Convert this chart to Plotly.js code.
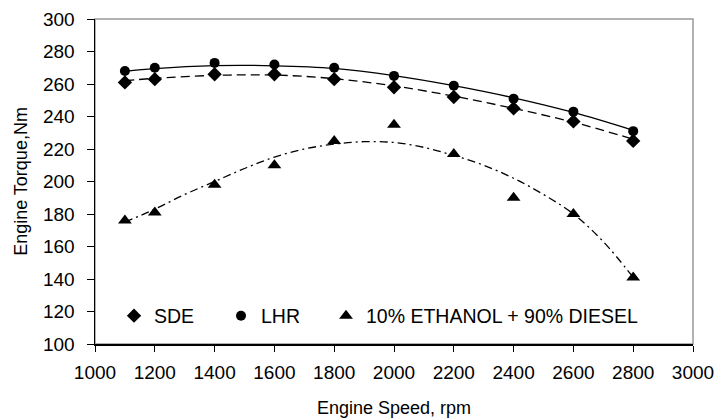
<!DOCTYPE html>
<html><head><meta charset="utf-8">
<script src="https://cdn.plot.ly/plotly-3.0.1.min.js"></script>
<style>html,body{margin:0;padding:0;background:#fff}#c{width:716px;height:418px}</style>
</head><body><div id="c"></div>
<script>
const speed = [1100,1200,1400,1600,1800,2000,2200,2400,2600,2800];
const sde = [261,263,266,266,263,258,252,245,237,225];
const lhr = [268,270,273,272,270,265,259,251,243,231];
const ethanol = [176,181,198,210,225,235,217,190,180,141];

const trendSpeed = [1100,1200,1400,1600,1800,2000,2200,2400,2600,2800];
const sdeTrend = [262,263.5,265.3,265.5,263.3,258.8,252.5,245,236.5,226];
const lhrTrend = [267.8,269.5,271.3,271.2,269.6,265.2,259,251.5,242.5,231.5];
const ethTrendSpeed = [1100,1200,1300,1400,1500,1600,1700,1800,1900,2000,2100,2200,2300,2400,2500,2600,2700,2800];
const ethTrend = [175,183,192,200,208,215,220,223,224.5,224,221,216,210,202,192,180,163,141];

const xTicks = [1000,1200,1400,1600,1800,2000,2200,2400,2600,2800,3000];
const yTicks = [100,120,140,160,180,200,220,240,260,280,300];

const lineStyle = {color:'#000', width:1.3};
const traces = [
  {x:trendSpeed, y:lhrTrend, mode:'lines', line:Object.assign({dash:'solid', shape:'spline'}, lineStyle), showlegend:false, hoverinfo:'skip'},
  {x:trendSpeed, y:sdeTrend, mode:'lines', line:Object.assign({dash:'9px,5px', shape:'spline'}, lineStyle), showlegend:false, hoverinfo:'skip'},
  {x:ethTrendSpeed, y:ethTrend, mode:'lines', line:Object.assign({dash:'8px,4px,2px,4px', shape:'spline'}, lineStyle), showlegend:false, hoverinfo:'skip'},
  {x:speed, y:sde, name:'SDE', mode:'markers', marker:{symbol:'diamond', size:11, color:'#000'}, legend:'legend'},
  {x:speed, y:lhr, name:'LHR', mode:'markers', marker:{symbol:'circle', size:10, color:'#000'}, legend:'legend2'},
  {x:speed, y:ethanol, name:'10% ETHANOL + 90% DIESEL', mode:'markers', marker:{symbol:'triangle-up', size:12, color:'#000'}, legend:'legend3'}
];

function leg(x){
  return {orientation:'h', x:x, y:0.086, xanchor:'left', yanchor:'middle', bgcolor:'rgba(0,0,0,0)',
    font:{size:19.5}, itemwidth:30};
}

const layout = {
  width:716, height:418,
  margin:{l:95, r:23, t:19, b:74},
  paper_bgcolor:'#fff', plot_bgcolor:'#fff',
  font:{family:'Liberation Sans, Arial, sans-serif', color:'#000', size:19},
  xaxis:{range:[1000,3000], tickvals:xTicks, ticktext:xTicks.map(String), showgrid:false, zeroline:false,
    showline:true, linecolor:'#000', linewidth:1.5, ticks:'outside', ticklen:6, tickcolor:'#000',
    ticklabelstandoff:5,
    tickfont:{size:19}, title:{text:'Engine Speed, rpm', font:{size:18}, standoff:20}},
  yaxis:{range:[100,300], tickvals:yTicks, ticktext:yTicks.map(String), showgrid:false, zeroline:false,
    showline:true, linecolor:'#000', linewidth:1.5, ticks:'outside', ticklen:7, tickcolor:'#000',
    ticklabelstandoff:8,
    tickfont:{size:19}, title:{text:'Engine Torque,Nm', font:{size:18}, standoff:10}},
  shapes:[{type:'rect', xref:'paper', yref:'paper', x0:0, x1:1, y0:0, y1:1, line:{color:'#999', width:1.5}, layer:'below'}],
  legend:leg(0.0318),
  legend2:leg(0.2107),
  legend3:leg(0.3863),
  showlegend:true
};
Plotly.newPlot('c', traces, layout, {staticPlot:true, displayModeBar:false});
</script></body></html>
